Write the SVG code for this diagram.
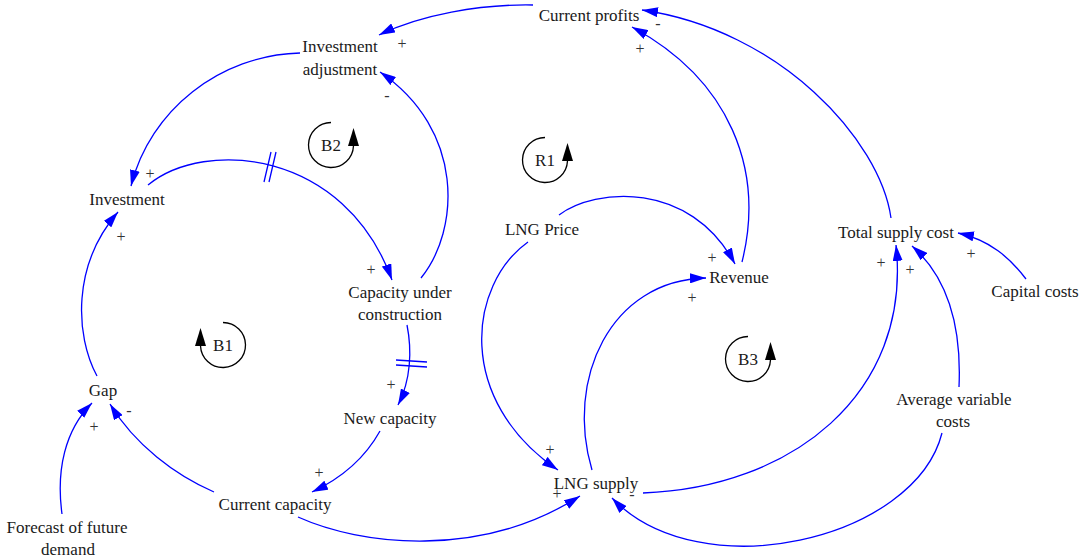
<svg xmlns="http://www.w3.org/2000/svg" width="1080" height="557" viewBox="0 0 1080 557">
<defs>
<marker id="arr" markerUnits="userSpaceOnUse" markerWidth="16" markerHeight="10" viewBox="0 0 16 10" refX="16" refY="5" orient="auto">
<path d="M0,0 L16,5 L0,10 z" fill="#0000ff"/>
</marker>
</defs>
<style>
.node text{font-family:"Liberation Serif","Times New Roman",serif;font-size:17px;fill:#1a1a1a;text-anchor:middle}
.pol{font-family:"Liberation Serif","Times New Roman",serif;font-size:16px;fill:#333;text-anchor:middle}
.link{fill:none;stroke:#0000ff;stroke-width:1.3;marker-end:url(#arr)}
.delay{stroke:#0000ff;stroke-width:1.3;fill:none}
.loop path{fill:none;stroke:#000;stroke-width:1.3}
.loop polygon{fill:#000}
.loop text{font-family:"Liberation Serif","Times New Roman",serif;font-size:17px;fill:#1a1a1a;text-anchor:middle}
</style>
<rect width="1080" height="557" fill="#fff"/>
<g id="connectors">
<path class="link" d="M533,5 C480,4 420,15 379,35"/>
<path class="link" d="M891,218 C880,140 780,30 642,10"/>
<path class="link" d="M742,262 C765,170 730,80 632,27"/>
<path class="link" d="M300,53 C220,55 150,110 131,186"/>
<path class="link" d="M421,278 C460,230 465,130 380,72"/>
<path class="link" d="M148,185 C205,138 345,150 392,280"/>
<path class="link" d="M407,325 C412,350 411,380 398,405"/>
<path class="link" d="M380,431 C365,458 342,478 312,492"/>
<path class="link" d="M214,492 C175,475 135,445 110,404"/>
<path class="link" d="M62,514 C56,470 65,430 92,403"/>
<path class="link" d="M97,376 C75,335 72,265 118,212"/>
<path class="link" d="M298,517 C360,545 480,560 580,496"/>
<path class="link" d="M559,215 C595,188 690,180 735,264"/>
<path class="link" d="M528,242 C468,285 455,400 558,470"/>
<path class="link" d="M592,470 C565,380 610,280 706,278"/>
<path class="link" d="M643,493 C790,488 912,395 896,245"/>
<path class="link" d="M959,387 C962,320 945,275 912,246"/>
<path class="link" d="M942,433 C915,540 700,590 612,498"/>
<path class="link" d="M1026,279 C1010,258 990,240 958,233"/>
<g id="delays">
<path class="delay" d="M271,152 L264,182 M276,152 L269,182"/>
<path class="delay" d="M396,360 L427,362 M396,365 L427,367"/>
</g>
<g id="polarities">
<text class="pol" x="402" y="49">+</text>
<text class="pol" x="658" y="29">-</text>
<text class="pol" x="640" y="54">+</text>
<text class="pol" x="387" y="101">-</text>
<text class="pol" x="150" y="179">+</text>
<text class="pol" x="121" y="242">+</text>
<text class="pol" x="371" y="275">+</text>
<text class="pol" x="391" y="390">+</text>
<text class="pol" x="319" y="478">+</text>
<text class="pol" x="129" y="416">-</text>
<text class="pol" x="94" y="432">+</text>
<text class="pol" x="712" y="263">+</text>
<text class="pol" x="692" y="303">+</text>
<text class="pol" x="550" y="455">+</text>
<text class="pol" x="557" y="499">+</text>
<text class="pol" x="632" y="500">-</text>
<text class="pol" x="881" y="268">+</text>
<text class="pol" x="910" y="275">+</text>
<text class="pol" x="971" y="259">+</text>
</g>
</g>
<g id="node-current-profits" class="node"><text x="589" y="21">Current profits</text></g>
<g id="node-investment-adjustment" class="node"><text x="340" y="52">Investment</text><text x="340" y="75">adjustment</text></g>
<g id="node-investment" class="node"><text x="127" y="205">Investment</text></g>
<g id="node-capacity-under-construction" class="node"><text x="400" y="298">Capacity under</text><text x="400" y="320">construction</text></g>
<g id="node-gap" class="node"><text x="103" y="396">Gap</text></g>
<g id="node-new-capacity" class="node"><text x="390" y="424">New capacity</text></g>
<g id="node-current-capacity" class="node"><text x="275" y="510">Current capacity</text></g>
<g id="node-forecast" class="node"><text x="67" y="533">Forecast of future</text><text x="68" y="555">demand</text></g>
<g id="node-lng-price" class="node"><text x="542" y="235">LNG Price</text></g>
<g id="node-revenue" class="node"><text x="739" y="283">Revenue</text></g>
<g id="node-lng-supply" class="node"><text x="596" y="489">LNG supply</text></g>
<g id="node-total-supply-cost" class="node"><text x="896" y="238">Total supply cost</text></g>
<g id="node-capital-costs" class="node"><text x="1035" y="297">Capital costs</text></g>
<g id="node-average-variable-costs" class="node"><text x="954" y="405">Average variable</text><text x="953" y="427">costs</text></g>
<g id="loop-B2" class="loop">
<g transform="translate(331,145)"><path d="M0,-22.5 A22.5,22.5 0 1 0 22.48,1"/><polygon points="22.5,-17 17,1 28,1"/></g>
<text x="331" y="151">B2</text>
</g>
<g id="loop-B1" class="loop">
<g transform="translate(223,345) scale(-1,1)"><path d="M0,-22.5 A22.5,22.5 0 1 0 22.48,1"/><polygon points="22.5,-17 17,1 28,1"/></g>
<text x="223" y="351">B1</text>
</g>
<g id="loop-R1" class="loop">
<g transform="translate(545,160)"><path d="M0,-22.5 A22.5,22.5 0 1 0 22.48,1"/><polygon points="22.5,-17 17,1 28,1"/></g>
<text x="545" y="166">R1</text>
</g>
<g id="loop-B3" class="loop">
<g transform="translate(748,359)"><path d="M0,-22.5 A22.5,22.5 0 1 0 22.48,1"/><polygon points="22.5,-17 17,1 28,1"/></g>
<text x="748" y="365">B3</text>
</g>
</svg>
